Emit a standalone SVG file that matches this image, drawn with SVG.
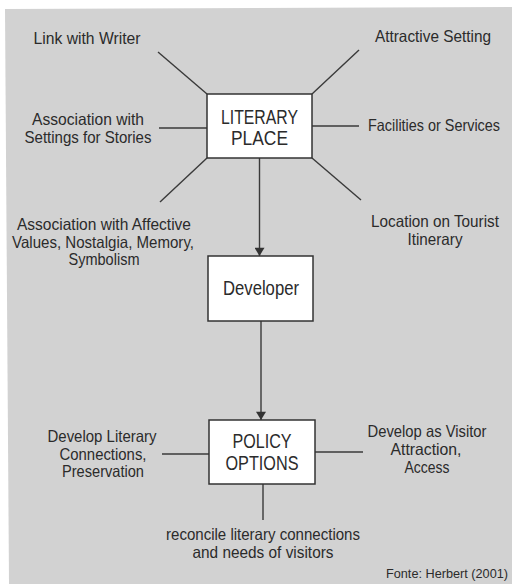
<svg xmlns="http://www.w3.org/2000/svg" width="512" height="584" viewBox="0 0 512 584">
<defs>
<style>
.bg{fill:#d2d2d2}
.box{fill:#ffffff;stroke:#333;stroke-width:1.5}
.ln{stroke:#3a3a3a;stroke-width:1.4;fill:none}
text{font-family:"Liberation Sans",Arial,sans-serif;fill:#2b2b2b;text-anchor:middle}
.lbl{font-size:16.5px}
.big{font-size:20px}
.src{font-size:13.5px}
</style>
<marker id="arr" viewBox="0 0 10 12" refX="10" refY="6" markerWidth="12" markerHeight="10" markerUnits="userSpaceOnUse" orient="auto">
<path d="M0,0 L10,6 L0,12 z" fill="#333"/>
</marker>
</defs>
<rect width="512" height="584" fill="#ffffff"/>
<path class="bg" d="M5,9 L512,7 L512,584 L9,584 z"/>

<g id="connectors">
<line class="ln" x1="158" y1="52" x2="207" y2="94"/>
<line class="ln" x1="359" y1="50" x2="312" y2="94"/>
<line class="ln" x1="159" y1="128" x2="207" y2="128"/>
<line class="ln" x1="312" y1="126" x2="359" y2="126"/>
<line class="ln" x1="207" y1="158" x2="160" y2="202"/>
<line class="ln" x1="312" y1="158" x2="361" y2="200"/>
<line class="ln" x1="259.5" y1="158" x2="259.5" y2="256" marker-end="url(#arr)"/>
<line class="ln" x1="261" y1="321" x2="261" y2="420" marker-end="url(#arr)"/>
<line class="ln" x1="162" y1="454" x2="209" y2="454"/>
<line class="ln" x1="315" y1="452" x2="363" y2="452"/>
<line class="ln" x1="263" y1="484" x2="263" y2="520"/>
</g>

<g id="literary-place">
<rect class="box" x="207" y="94" width="105" height="64"/>
<text class="big" x="259.5" y="124" textLength="77" lengthAdjust="spacingAndGlyphs">LITERARY</text>
<text class="big" x="259.5" y="145" textLength="57" lengthAdjust="spacingAndGlyphs">PLACE</text>
</g>

<g id="developer">
<rect class="box" x="208" y="256" width="105" height="65"/>
<text class="big" x="261" y="295" textLength="76" lengthAdjust="spacingAndGlyphs">Developer</text>
</g>

<g id="policy-options">
<rect class="box" x="209" y="420" width="106" height="64"/>
<text class="big" x="262" y="448" textLength="59" lengthAdjust="spacingAndGlyphs">POLICY</text>
<text class="big" x="262" y="470" textLength="73" lengthAdjust="spacingAndGlyphs">OPTIONS</text>
</g>

<g id="link-with-writer">
<text class="lbl" x="87" y="44" textLength="107" lengthAdjust="spacingAndGlyphs">Link with Writer</text>
</g>
<g id="attractive-setting">
<text class="lbl" x="433" y="42" textLength="116" lengthAdjust="spacingAndGlyphs">Attractive Setting</text>
</g>
<g id="association-settings">
<text class="lbl" x="88" y="125" textLength="112" lengthAdjust="spacingAndGlyphs">Association with</text>
<text class="lbl" x="88" y="143" textLength="127" lengthAdjust="spacingAndGlyphs">Settings for Stories</text>
</g>
<g id="facilities">
<text class="lbl" x="434" y="131" textLength="132" lengthAdjust="spacingAndGlyphs">Facilities or Services</text>
</g>
<g id="association-affective">
<text class="lbl" x="104" y="230" textLength="174" lengthAdjust="spacingAndGlyphs">Association with Affective</text>
<text class="lbl" x="103" y="248" textLength="182" lengthAdjust="spacingAndGlyphs">Values, Nostalgia, Memory,</text>
<text class="lbl" x="104" y="265" textLength="71" lengthAdjust="spacingAndGlyphs">Symbolism</text>
</g>
<g id="location">
<text class="lbl" x="435" y="227" textLength="128" lengthAdjust="spacingAndGlyphs">Location on Tourist</text>
<text class="lbl" x="435" y="245" textLength="55" lengthAdjust="spacingAndGlyphs">Itinerary</text>
</g>
<g id="develop-literary">
<text class="lbl" x="102" y="442" textLength="109" lengthAdjust="spacingAndGlyphs">Develop Literary</text>
<text class="lbl" x="103" y="460" textLength="87" lengthAdjust="spacingAndGlyphs">Connections,</text>
<text class="lbl" x="103" y="477" textLength="82" lengthAdjust="spacingAndGlyphs">Preservation</text>
</g>
<g id="develop-visitor">
<text class="lbl" x="427" y="437" textLength="119" lengthAdjust="spacingAndGlyphs">Develop as Visitor</text>
<text class="lbl" x="426" y="455" textLength="71" lengthAdjust="spacingAndGlyphs">Attraction,</text>
<text class="lbl" x="427" y="473" textLength="45" lengthAdjust="spacingAndGlyphs">Access</text>
</g>
<g id="reconcile">
<text class="lbl" x="263" y="540" textLength="194" lengthAdjust="spacingAndGlyphs">reconcile literary connections</text>
<text class="lbl" x="263" y="558" textLength="141" lengthAdjust="spacingAndGlyphs">and needs of visitors</text>
</g>
<text class="src" x="447" y="578" textLength="122" lengthAdjust="spacingAndGlyphs">Fonte: Herbert (2001)</text>
</svg>
